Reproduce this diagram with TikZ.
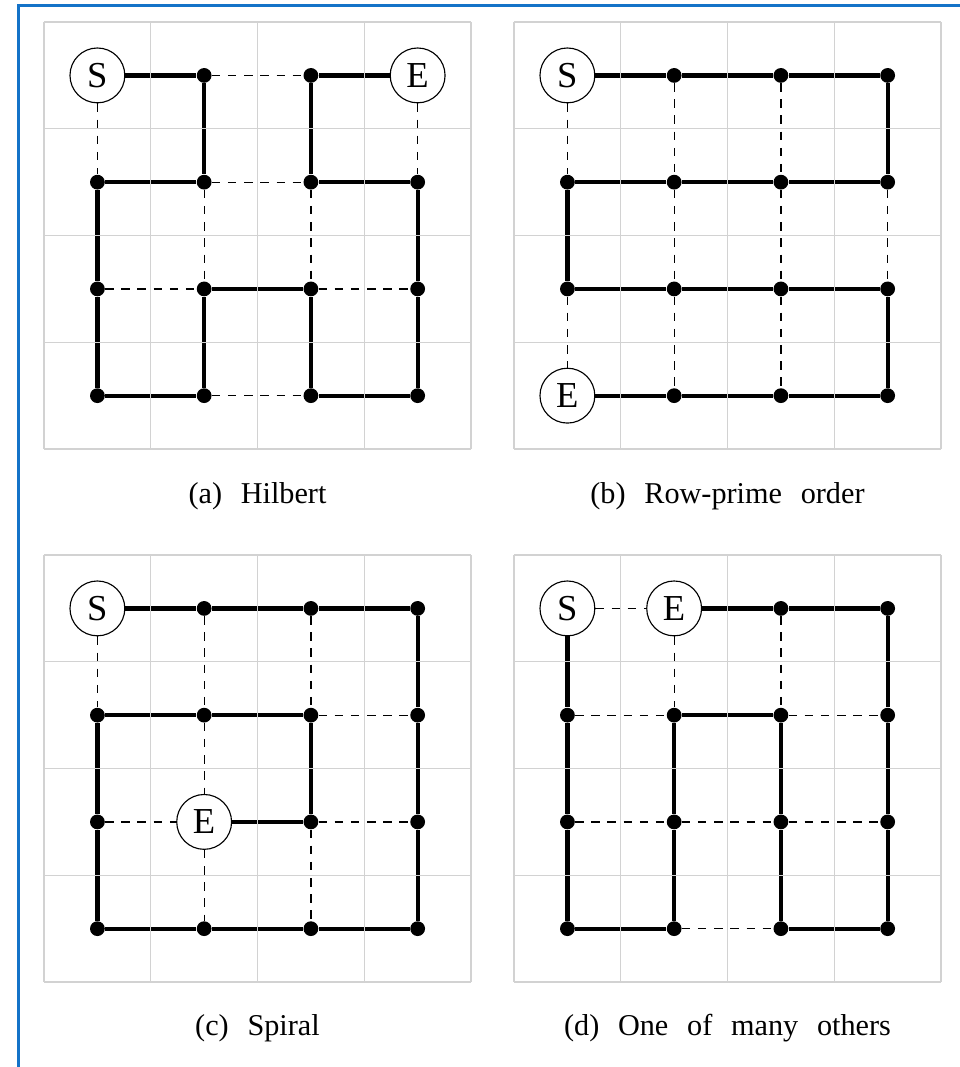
\documentclass[tikz,border=0pt]{standalone}
\usepackage{fontspec}
\setmainfont{Liberation Serif}
\usetikzlibrary{positioning, backgrounds}

\definecolor{frameblue}{RGB}{20,115,200}
\newcommand{\capfont}{\fontsize{21.5}{24}\selectfont\spaceskip 0.62em\relax}

\tikzset{
  cell/.style={draw=gray!35, line width=1pt},
  dot/.style={circle, fill=black, inner sep=0pt, minimum size=10.5pt},
  term/.style={circle, draw, fill=white, line width=0.8pt, minimum size=39pt, inner sep=0pt, font=\fontsize{26}{26}\selectfont},
  link/.style={line width=3pt},
  skip/.style={dash pattern=on 6pt off 5.5pt, line width=0.9pt},
  caption/.style={font=\capfont}
}

\begin{document}
\begin{tikzpicture}[x=0.025cm, y=-0.025cm]
  \useasboundingbox (0,0) rectangle (960,1067);
  % window frame
  \draw[frameblue, line width=2.2pt] (18.5,1067) -- (18.5,5.5) -- (960,5.5);

  % (a) Hilbert
  \begin{scope}[shift={(44,22)}]
    \foreach \k in {0,...,4}
      \draw[cell] (106.75*\k,0) -- (106.75*\k,427)  (0,106.75*\k) -- (427,106.75*\k);
    \foreach \i in {0,...,3}
      \foreach \j in {0,...,3}
        \node[dot] (a\i\j) at (53.4+106.75*\i, 53.4+106.75*\j) {};
    \node[term] (aS) at (a00) {S};
    \node[term] (aE) at (a30) {E};
    \begin{scope}[on background layer]
      \draw[skip] (a10) -- (a20)  (a11) -- (a21)  (a02) -- (a12)  (a22) -- (a32)  (a13) -- (a23);
      \draw[skip] (aS) -- (a01)  (aE) -- (a31)  (a11) -- (a12)  (a21) -- (a22);
      \draw[link] (aS) -- (a10) -- (a11) -- (a01) -- (a02) -- (a03) -- (a13) -- (a12)
        -- (a22) -- (a23) -- (a33) -- (a32) -- (a31) -- (a21) -- (a20) -- (aE);
    \end{scope}
    \node[caption] (acap) at (213.5,474) {(a) Hilbert};
  \end{scope}

  % (b) Row-prime order
  \begin{scope}[shift={(514,22)}]
    \foreach \k in {0,...,4}
      \draw[cell] (106.75*\k,0) -- (106.75*\k,427)  (0,106.75*\k) -- (427,106.75*\k);
    \foreach \i in {0,...,3}
      \foreach \j in {0,...,3}
        \node[dot] (b\i\j) at (53.4+106.75*\i, 53.4+106.75*\j) {};
    \node[term] (bS) at (b00) {S};
    \node[term] (bE) at (b03) {E};
    \begin{scope}[on background layer]
      \draw[skip] (bS) -- (b01)  (b10) -- (b11)  (b20) -- (b21)  (b11) -- (b12)  (b21) -- (b22)
        (b31) -- (b32)  (b02) -- (bE)  (b12) -- (b13)  (b22) -- (b23);
      \draw[link] (bS) -- (b10) -- (b20) -- (b30) -- (b31) -- (b21) -- (b11) -- (b01)
        -- (b02) -- (b12) -- (b22) -- (b32) -- (b33) -- (b23) -- (b13) -- (bE);
    \end{scope}
    \node[caption] (bcap) at (213.5,474) {(b) Row-prime order};
  \end{scope}

  % (c) Spiral
  \begin{scope}[shift={(44,555)}]
    \foreach \k in {0,...,4}
      \draw[cell] (106.75*\k,0) -- (106.75*\k,427)  (0,106.75*\k) -- (427,106.75*\k);
    \foreach \i in {0,...,3}
      \foreach \j in {0,...,3}
        \node[dot] (c\i\j) at (53.4+106.75*\i, 53.4+106.75*\j) {};
    \node[term] (cS) at (c00) {S};
    \node[term] (cE) at (c12) {E};
    \begin{scope}[on background layer]
      \draw[skip] (c21) -- (c31)  (c02) -- (cE)  (c22) -- (c32);
      \draw[skip] (cS) -- (c01)  (c10) -- (c11)  (c20) -- (c21)  (c11) -- (cE)  (cE) -- (c13)  (c22) -- (c23);
      \draw[link] (cS) -- (c10) -- (c20) -- (c30) -- (c31) -- (c32) -- (c33) -- (c23)
        -- (c13) -- (c03) -- (c02) -- (c01) -- (c11) -- (c21) -- (c22) -- (cE);
    \end{scope}
    \node[caption] (ccap) at (213.5,473) {(c) Spiral};
  \end{scope}

  % (d) One of many others
  \begin{scope}[shift={(514,555)}]
    \foreach \k in {0,...,4}
      \draw[cell] (106.75*\k,0) -- (106.75*\k,427)  (0,106.75*\k) -- (427,106.75*\k);
    \foreach \i in {0,...,3}
      \foreach \j in {0,...,3}
        \node[dot] (d\i\j) at (53.4+106.75*\i, 53.4+106.75*\j) {};
    \node[term] (dS) at (d00) {S};
    \node[term] (dE) at (d10) {E};
    \begin{scope}[on background layer]
      \draw[skip] (dS) -- (dE)  (d01) -- (d11)  (d21) -- (d31)  (d02) -- (d12)  (d12) -- (d22)
        (d22) -- (d32)  (d13) -- (d23);
      \draw[skip] (dE) -- (d11)  (d20) -- (d21);
      \draw[link] (dS) -- (d01) -- (d02) -- (d03) -- (d13) -- (d12) -- (d11) -- (d21)
        -- (d22) -- (d23) -- (d33) -- (d32) -- (d31) -- (d30) -- (d20) -- (dE);
    \end{scope}
    \node[caption] (dcap) at (213.5,473) {(d) One of many others};
  \end{scope}
\end{tikzpicture}
\end{document}
